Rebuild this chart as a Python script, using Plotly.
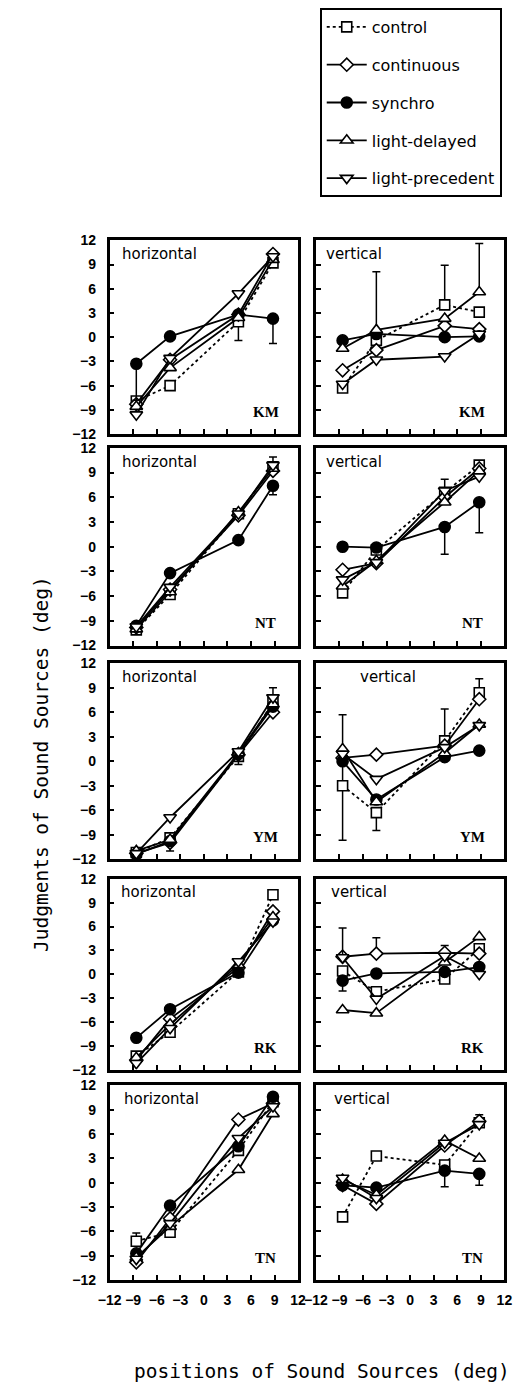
import plotly.graph_objects as go

# ---------------- data ----------------
X_POS = [-8.6, -4.3, 4.4, 8.8]
SERIES = ["control", "continuous", "synchro", "light-delayed", "light-precedent"]
SUBJECTS = ["KM", "NT", "YM", "RK", "TN"]
DIRECTIONS = ["horizontal", "vertical"]
TICKS = [-12, -9, -6, -3, 0, 3, 6, 9, 12]

km_h = {"control": [-7.9, -6.0, 1.9, 9.2], "continuous": [-8.3, -2.8, 2.8, 10.3],
        "synchro": [-3.3, 0.1, 2.8, 2.3], "light-delayed": [-8.6, -3.8, 2.4, 9.6],
        "light-precedent": [-9.6, -2.6, 5.4, 10.0]}
km_v = {"control": [-6.3, -0.4, 4.0, 3.1], "continuous": [-4.1, -1.6, 1.4, 1.0],
        "synchro": [-0.4, 0.4, 0.0, 0.1], "light-delayed": [-1.4, 0.9, 2.3, 5.6],
        "light-precedent": [-5.8, -2.8, -2.4, 0.4]}
nt_h = {"control": [-10.1, -5.8, 4.0, 9.7], "continuous": [-9.8, -5.2, 3.8, 9.2],
        "synchro": [-9.6, -3.2, 0.8, 7.4], "light-delayed": [-10.0, -5.5, 4.2, 9.5],
        "light-precedent": [-9.7, -4.9, 4.0, 9.9]}
nt_v = {"control": [-5.6, -0.4, 6.6, 9.9], "continuous": [-2.8, -2.0, 6.0, 9.5],
        "synchro": [0.0, -0.1, 2.4, 5.4], "light-delayed": [-4.8, -1.7, 5.4, 9.2],
        "light-precedent": [-4.0, -1.9, 6.8, 8.5]}
ym_h = {"control": [-11.2, -9.4, 0.6, 7.2], "continuous": [-11.3, -10.0, 0.8, 6.0],
        "synchro": [-11.4, -9.8, 0.9, 6.7], "light-delayed": [-11.0, -9.6, 1.0, 7.0],
        "light-precedent": [-11.3, -6.9, 1.2, 7.8]}
ym_v = {"control": [-3.0, -6.3, 2.5, 8.4], "continuous": [0.4, 0.8, 1.9, 7.6],
        "synchro": [0.0, -4.7, 0.5, 1.3], "light-delayed": [1.5, -5.0, 1.0, 4.5],
        "light-precedent": [0.9, -2.2, 1.7, 4.4]}
rk_h = {"control": [-10.3, -7.3, 0.3, 10.0], "continuous": [-10.8, -5.6, 0.8, 7.9],
        "synchro": [-8.0, -4.4, 0.2, 6.8], "light-delayed": [-10.5, -6.3, 1.2, 7.2],
        "light-precedent": [-11.2, -6.8, 1.6, 6.6]}
rk_v = {"control": [0.4, -2.2, -0.6, 3.2], "continuous": [2.2, 2.6, 2.7, 2.6],
        "synchro": [-0.8, 0.1, 0.3, 0.9], "light-delayed": [-4.5, -4.9, 1.5, 4.7],
        "light-precedent": [2.1, -3.1, 2.3, 0.0]}
tn_h = {"control": [-7.2, -6.1, 4.0, 10.0], "continuous": [-9.8, -4.4, 7.8, 9.8],
        "synchro": [-8.7, -2.8, 4.5, 10.6], "light-delayed": [-9.2, -5.4, 1.6, 8.5],
        "light-precedent": [-9.4, -5.0, 5.5, 9.4]}
tn_v = {"control": [-4.2, 3.3, 2.2, 7.4], "continuous": [-0.3, -2.6, 4.6, 7.6],
        "synchro": [-0.3, -0.6, 1.5, 1.1], "light-delayed": [0.4, -1.5, 5.2, 3.0],
        "light-precedent": [0.6, -1.9, 4.9, 7.2]}

PANELS = [[km_h, km_v], [nt_h, nt_v], [ym_h, ym_v], [rk_h, rk_v], [tn_h, tn_v]]

# one-sided / asymmetric error bars: (row, col, series) -> (plus, minus)
N = None
ERRORS = {
    (0, 0, "control"): ([N, N, N, N], [N, N, 2.3, N]),
    (0, 0, "synchro"): ([N, N, N, N], [4.5, N, N, 3.1]),
    (0, 1, "control"): ([N, N, 4.9, N], [N, N, N, N]),
    (0, 1, "light-delayed"): ([N, 7.2, N, 6.0], [N, N, N, N]),
    (1, 0, "control"): ([N, N, N, 1.2], [N, N, N, N]),
    (1, 0, "synchro"): ([N, N, N, N], [N, N, N, 1.1]),
    (1, 1, "control"): ([N, N, 1.6, N], [N, N, N, N]),
    (1, 1, "synchro"): ([N, N, N, N], [N, N, 3.3, 3.7]),
    (2, 0, "control"): ([N, N, N, N], [N, 1.6, 1.0, N]),
    (2, 0, "light-precedent"): ([N, N, N, 1.2], [N, N, N, N]),
    (2, 1, "control"): ([8.7, N, 3.9, 1.7], [6.7, 2.2, N, N]),
    (3, 1, "light-precedent"): ([3.7, N, N, N], [N, N, N, N]),
    (3, 1, "synchro"): ([N, N, N, N], [1.3, N, N, N]),
    (3, 1, "continuous"): ([N, 2.0, 0.9, N], [N, N, N, N]),
    (4, 0, "control"): ([1.0, N, N, N], [N, N, N, N]),
    (4, 1, "control"): ([N, N, N, 1.0], [N, N, N, N]),
    (4, 1, "synchro"): ([N, N, N, N], [N, N, 2.0, 1.4]),
}

# ---------------- styles ----------------
STYLE = {
    "control": dict(symbol="square", fill="white", dash="dot", size=10),
    "continuous": dict(symbol="diamond", fill="white", dash="solid", size=10),
    "synchro": dict(symbol="circle", fill="black", dash="solid", size=11),
    "light-delayed": dict(symbol="triangle-up", fill="white", dash="solid", size=11),
    "light-precedent": dict(symbol="triangle-down", fill="white", dash="solid", size=11),
}

W, H = 522, 1388
COLS_PX = [(101.5, 297.5), (316, 512)]
ROWS_PX = [(235, 431), (445, 645), (663, 861), (881, 1074), (1090, 1287)]
DIR_LABEL_X = [[-10.7, -11.0], [-10.7, -11.0], [-10.7, -6.7], [-10.8, -10.3], [-10.4, -10.0]]

TICK_FONT = dict(family="Liberation Sans Narrow, Liberation Sans, Arial, sans-serif",
                 size=14, color="black", weight="bold")
LABEL_FONT = dict(family="DejaVu Sans, sans-serif", size=15, color="black")
TITLE_FONT = dict(family="DejaVu Sans Mono, Liberation Mono, monospace", size=19.5, color="black")

fig = go.Figure()
layout = {}
annotations = []

for r in range(5):
    for c in range(2):
        idx = r * 2 + c + 1
        xa = "x" if idx == 1 else f"x{idx}"
        ya = "y" if idx == 1 else f"y{idx}"
        data = PANELS[r][c]
        for s in SERIES:
            st = STYLE[s]
            plus, minus = ERRORS.get((r, c, s), (None, None))
            err = None
            if plus is not None:
                err = dict(type="data", symmetric=False, array=plus, arrayminus=minus,
                           color="black", thickness=1.5, width=4)
            fig.add_trace(go.Scatter(
                x=X_POS, y=data[s], name=s, mode="lines+markers",
                xaxis=xa, yaxis=ya,
                line=dict(color="black", width=1.8, dash=st["dash"]),
                marker=dict(symbol=st["symbol"], size=st["size"], color=st["fill"],
                            line=dict(color="black", width=1.6)),
                error_y=err,
                showlegend=(idx == 1), legendgroup=s,
            ))
        x0, x1 = COLS_PX[c]
        y0, y1 = ROWS_PX[r]
        axis_common = dict(range=[-12, 12], tickvals=TICKS, ticks="inside", ticklen=5,
                           tickwidth=1.5, tickcolor="black", showline=True, linewidth=2.5,
                           linecolor="black", mirror=True, showgrid=False, zeroline=False,
                           tickfont=TICK_FONT, tickangle=0)
        layout["xaxis" if idx == 1 else f"xaxis{idx}"] = dict(
            axis_common, domain=[x0 / W, x1 / W], anchor=ya,
            showticklabels=(r == 4), ticklabelstandoff=5)
        layout["yaxis" if idx == 1 else f"yaxis{idx}"] = dict(
            axis_common, domain=[1 - y1 / H, 1 - y0 / H], anchor=xa,
            showticklabels=(c == 0), ticklabelstandoff=8)
        annotations.append(dict(
            x=DIR_LABEL_X[r][c], y=10.3, xref=xa, yref=ya, text=DIRECTIONS[c],
            xanchor="left", yanchor="middle", showarrow=False, font=LABEL_FONT))
        annotations.append(dict(
            x=7.9, y=-9.3, xref=xa, yref=ya, text=SUBJECTS[r],
            xanchor="center", yanchor="middle", showarrow=False,
            font=dict(family="Liberation Serif, serif", size=15, color="black", weight="bold")))

annotations.append(dict(
    x=30 / W, y=1 - 765 / H, xref="paper", yref="paper",
    text="Judgments of Sound Sources (deg)", textangle=-90, showarrow=False,
    xanchor="center", yanchor="middle", font=TITLE_FONT))
annotations.append(dict(
    x=322 / W, y=1 - 1379 / H, xref="paper", yref="paper",
    text="positions of Sound Sources (deg)", showarrow=False,
    xanchor="center", yanchor="middle", font=TITLE_FONT))

fig.update_layout(
    **layout,
    width=W, height=H, autosize=False,
    margin=dict(l=0, r=0, t=0, b=0),
    paper_bgcolor="white", plot_bgcolor="white",
    annotations=annotations,
    legend=dict(x=320 / W, y=1.0, xanchor="left", yanchor="top",
                bordercolor="black", borderwidth=2, bgcolor="white",
                font=dict(family="DejaVu Sans, sans-serif", size=16, color="black"),
                tracegroupgap=14, itemwidth=40),
)

fig.write_html("out.html", config={"displayModeBar": False},
               post_script="document.body.style.margin='0';")
